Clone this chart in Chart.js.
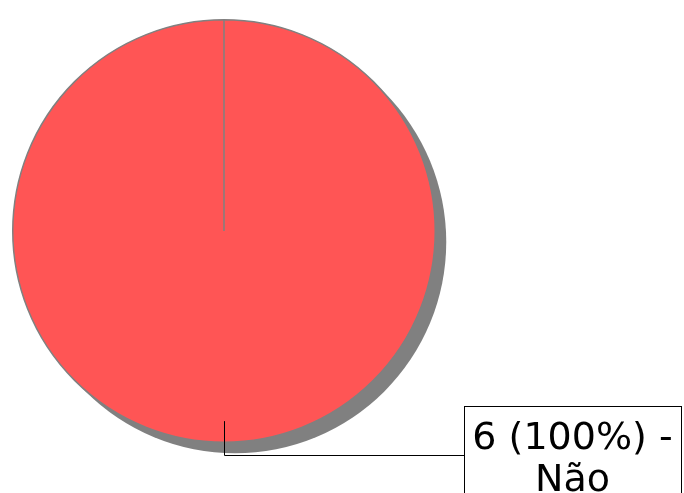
<!DOCTYPE html>
<html>
<head>
<meta charset="utf-8">
<script src="https://cdn.jsdelivr.net/npm/chart.js@4.4.0/dist/chart.umd.min.js"></script>
<style>
  html, body { margin:0; padding:0; background:#fff; }
  #wrap { width:684px; height:493px; position:relative; }
</style>
</head>
<body>
<div id="wrap"><canvas id="pieChart"></canvas></div>
<script>
// data
const categories = ['Não'];
const counts = [6];
const sliceColors = ['#ff5555'];

const total = counts.reduce((a, b) => a + b, 0);

// grey drop shadow behind the pie
const shadowPlugin = {
  id: 'shadow',
  beforeDatasetsDraw(chart) {
    const arc = chart.getDatasetMeta(0).data[0];
    if (!arc) return;
    const ctx = chart.ctx;
    ctx.save();
    ctx.fillStyle = '#808080';
    ctx.beginPath();
    ctx.arc(arc.x + 11, arc.y + 11, arc.outerRadius, 0, Math.PI * 2);
    ctx.fill();
    ctx.restore();
  }
};

// boxed label with leader line
const calloutPlugin = {
  id: 'callout',
  afterDatasetsDraw(chart) {
    const ctx = chart.ctx;
    const meta = chart.getDatasetMeta(0);
    meta.data.forEach((arc, i) => {
      const mid = (arc.startAngle + arc.endAngle) / 2;
      const r = arc.outerRadius;
      const sx = arc.x + Math.cos(mid) * r * 0.9;
      const sy = arc.y + Math.sin(mid) * r * 0.9;
      const ey = arc.y + r + 13;
      const boxL = chart.chartArea.right + 28;
      const boxR = chart.width - 3;
      const boxT = ey - 49;
      const pct = Math.round(counts[i] / total * 100);
      const lines = [counts[i] + ' (' + pct + '%) -', categories[i]];

      ctx.save();
      ctx.strokeStyle = '#000';
      ctx.lineWidth = 1;
      ctx.beginPath();
      ctx.moveTo(Math.round(sx) + 0.5, sy);
      ctx.lineTo(Math.round(sx) + 0.5, Math.round(ey) + 0.5);
      ctx.lineTo(boxL, Math.round(ey) + 0.5);
      ctx.stroke();

      ctx.fillStyle = '#fff';
      ctx.fillRect(boxL, boxT, boxR - boxL, 120);
      ctx.strokeRect(Math.round(boxL) + 0.5, Math.round(boxT) + 0.5, boxR - boxL, 120);

      ctx.fillStyle = '#000';
      ctx.font = '38px "DejaVu Sans"';
      ctx.textAlign = 'center';
      ctx.textBaseline = 'alphabetic';
      const cx = (boxL + boxR) / 2;
      lines.forEach((t, j) => ctx.fillText(t, cx, boxT + 43 + j * 42));
      ctx.restore();
    });
  }
};

new Chart(document.getElementById('pieChart'), {
  type: 'pie',
  data: {
    labels: categories,
    datasets: [{
      data: counts,
      backgroundColor: sliceColors,
      borderColor: '#808080',
      borderWidth: 1.5,
      hoverOffset: 0
    }]
  },
  options: {
    responsive: true,
    maintainAspectRatio: false,
    animation: false,
    layout: { padding: { left: 12, top: 19, right: 248, bottom: 50 } },
    plugins: {
      legend: { display: false },
      tooltip: { enabled: false }
    }
  },
  plugins: [shadowPlugin, calloutPlugin]
});
</script>
</body>
</html>
